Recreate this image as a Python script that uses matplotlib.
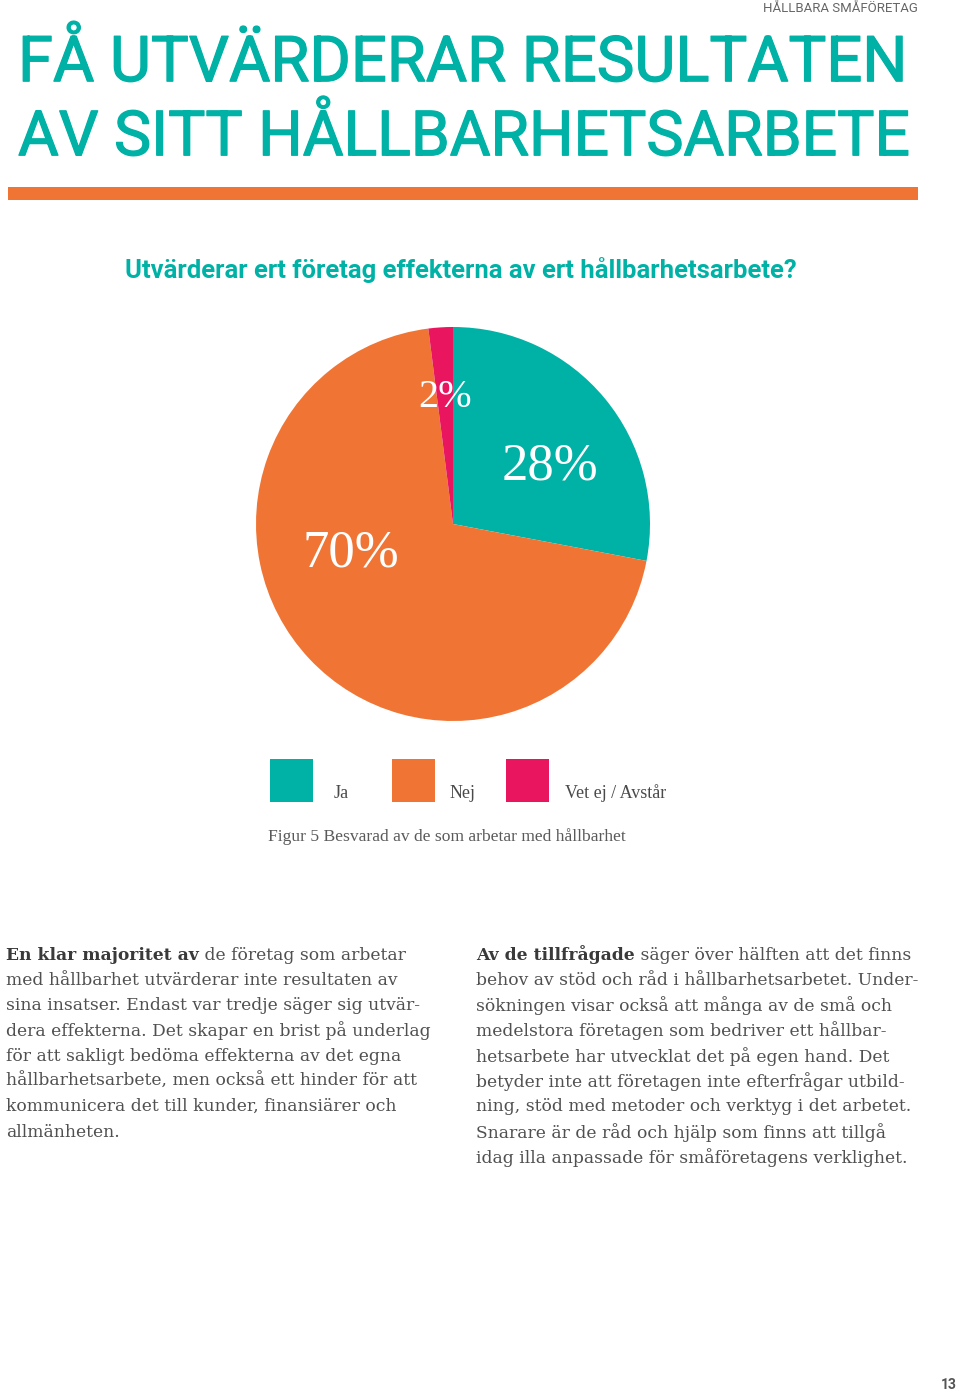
import matplotlib
matplotlib.use('Agg')
from matplotlib import pyplot as plt
from matplotlib.patches import Rectangle
import matplotlib.patheffects as pe

# chart data
categories = ['Ja', 'Nej', 'Vet ej / Avstår']
shares = [28, 70, 2]
colors = ['#00B2A6', '#F07535', '#E9155F']

title_lines = ['FÅ UTVÄRDERAR RESULTATEN', 'AV SITT HÅLLBARHETSARBETE']
question = 'Utvärderar ert företag effekterna av ert hållbarhetsarbete?'
caption = 'Figur 5 Besvarad av de som arbetar med hållbarhet'

left_bold = 'En klar majoritet av'
left_lines = [
    ' de företag som arbetar',
    'med hållbarhet utvärderar inte resultaten av',
    'sina insatser. Endast var tredje säger sig utvär-',
    'dera effekterna. Det skapar en brist på underlag',
    'för att sakligt bedöma effekterna av det egna',
    'hållbarhetsarbete, men också ett hinder för att',
    'kommunicera det till kunder, finansiärer och',
    'allmänheten.',
]
right_bold = 'Av de tillfrågade'
right_lines = [
    ' säger över hälften att det finns',
    'behov av stöd och råd i hållbarhetsarbetet. Under-',
    'sökningen visar också att många av de små och',
    'medelstora företagen som bedriver ett hållbar-',
    'hetsarbete har utvecklat det på egen hand. Det',
    'betyder inte att företagen inte efterfrågar utbild-',
    'ning, stöd med metoder och verktyg i det arbetet.',
    'Snarare är de råd och hjälp som finns att tillgå',
    'idag illa anpassade för småföretagens verklighet.',
]

W, H = 960, 1395
TEAL = '#00B2A6'
GREY = '#505050'

fig = plt.figure(figsize=(W / 100, H / 100), dpi=100)
fig.patch.set_facecolor('white')

# page overlay in pixel coordinates
page = fig.add_axes([0, 0, 1, 1])
page.set_xlim(0, W)
page.set_ylim(H, 0)
page.axis('off')

renderer = fig.canvas.get_renderer()


def fit_text(x, y, s, width, **kw):
    t = page.text(x, y, s, **kw)
    ext = t.get_window_extent(renderer)
    t.set_fontsize(t.get_fontsize() * width / ext.width)
    return t


def text_width(t):
    ext = t.get_window_extent(renderer)
    return ext.width


page.text(918, 9, 'HÅLLBARA SMÅFÖRETAG', ha='right', va='center',
          fontsize=9.5, color='#666666', family='Roboto')

thick = [pe.withStroke(linewidth=0.9, foreground=TEAL)]
fit_text(18, 64, title_lines[0], 889, ha='left', va='center', fontsize=40,
         color=TEAL, family='Roboto', fontweight='normal', path_effects=thick)
fit_text(18, 138, title_lines[1], 892, ha='left', va='center', fontsize=40,
         color=TEAL, family='Roboto', fontweight='normal', path_effects=thick)

page.add_patch(Rectangle((8, 187), 910, 13, color='#F07535', lw=0))

fit_text(125, 270, question, 672, ha='left', va='center', fontsize=16,
         color=TEAL, family='Roboto', fontweight='bold')

# pie
pie_ax = fig.add_axes([256 / W, 1 - 721 / H, 394 / W, 394 / H])
pie_ax.pie(shares, colors=colors, startangle=90, counterclock=False,
           wedgeprops=dict(linewidth=0))
pie_ax.set_xlim(-1, 1)
pie_ax.set_ylim(-1, 1)
pie_ax.set_aspect('equal')
pie_ax.axis('off')

label_pos = [(0.49, 0.29), (-0.52, -0.15), (-0.04, 0.64)]
label_size = [38, 38, 29]
for (lx, ly), v, fs in zip(label_pos, shares, label_size):
    pie_ax.text(lx, ly, f'{v}%', ha='center', va='center', color='white',
                fontsize=fs, family='Liberation Serif')

# legend
box_x = [270, 392, 506]
lab_x = [334, 450, 565]
for bx, lx, c, lab in zip(box_x, lab_x, colors, categories):
    page.add_patch(Rectangle((bx, 759), 43, 43, color=c, lw=0))
    page.text(lx, 793, lab, ha='left', va='center', fontsize=13,
              color='#4a4a4a', family='Liberation Serif')

fit_text(268, 837, caption, 357, ha='left', va='center', fontsize=11,
         color='#5a5a5a', family='Liberation Serif')


def paragraph(x0, y0, bold, lines, size=12.3, step=25.3):
    b = page.text(x0, y0, bold, ha='left', va='center', fontsize=size,
                  color='#3a3a3a', family='DejaVu Serif', fontweight='bold')
    bw = text_width(b)
    for i, line in enumerate(lines):
        x = x0 + (bw if i == 0 else 0)
        page.text(x, y0 + i * step, line, ha='left', va='center',
                  fontsize=size, color=GREY, family='DejaVu Serif')


paragraph(6, 955, left_bold, left_lines)
paragraph(476, 955, right_bold, right_lines)

page.text(957, 1385, '13', ha='right', va='center', fontsize=10,
          color='#555555', family='Roboto', fontweight='bold')

fig.savefig('out.png', dpi=100, facecolor='white')
